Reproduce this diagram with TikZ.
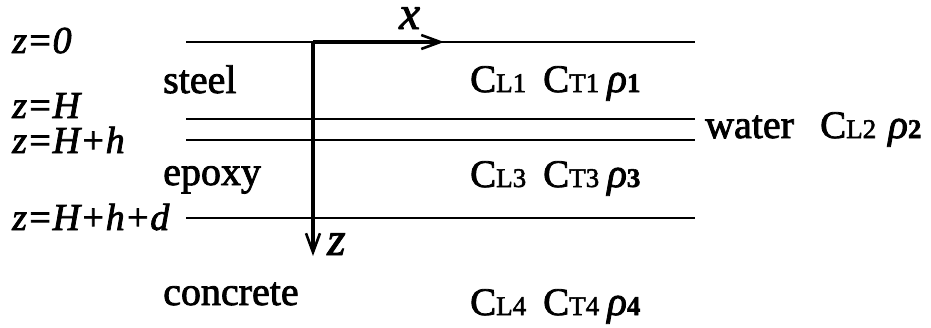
\documentclass[tikz,border=0pt]{standalone}
\usepackage{fontspec}
\setmainfont{Liberation Serif}[FakeBold=2]
\usetikzlibrary{arrows.meta}
\begin{document}
\begin{tikzpicture}[x=1pt,y=-1pt,
  lbl/.style={anchor=base west,inner sep=0pt,font=\fontsize{38}{40}\selectfont\itshape},
  axl/.style={anchor=base west,inner sep=0pt,font=\fontsize{47}{50}\selectfont\itshape},
  txt/.style={anchor=base west,inner sep=0pt,font=\fontsize{40}{44}\selectfont},
  prop/.style={anchor=base west,inner sep=0pt,font=\fontsize{39}{40}\selectfont},
  layer/.style={line width=2.2pt},
  axis/.style={line width=3.2pt,-{Straight Barb[length=19pt,width=14pt,line width=2.6pt]}}]
\useasboundingbox (0,0) rectangle (931,327);
\newcommand{\sbx}[1]{{\fontsize{27}{28}\selectfont #1}}
\newcommand{\rh}[1]{{\fontsize{41}{40}\selectfont\itshape ρ}{\fontsize{27}{26}\selectfont\bfseries #1}}
% interface lines
\coordinate (l0a) at (186,42);  \coordinate (l0b) at (695,42);
\coordinate (l1a) at (186,119); \coordinate (l1b) at (695,119);
\coordinate (l2a) at (186,140); \coordinate (l2b) at (695,140);
\coordinate (l3a) at (186,218); \coordinate (l3b) at (695,218);
\draw[layer] (l0a) -- (l0b);
\draw[layer] (l1a) -- (l1b);
\draw[layer] (l2a) -- (l2b);
\draw[layer] (l3a) -- (l3b);
% axes
\coordinate (o) at (313,42);
\coordinate (xe) at (444,42);
\coordinate (ze) at (313,256);
\draw[axis] (o) -- (xe);
\draw[axis] (o) -- (ze);
\node[axl] (xl) at (399,29) {x};
\node[axl] (zl) at (327,255) {z};
% left labels
\node[lbl] (z0) at (12,53) {z=0};
\node[lbl] (zH) at (12,118) {z=H};
\node[lbl] (zHh) at (12,153) {z=H+h};
\node[lbl] (zHhd) at (12,230) {z=H+h+d};
% materials
\node[txt] (steel) at (163,93) {steel};
\node[txt] (epoxy) at (163,185) {epoxy};
\node[txt] (concrete) at (163,305) {concrete};
\node[txt] (water) at (705,138) {water};
% properties
\node[prop] (p1) at (470,92) {C\sbx{L1}\hspace{17pt}C\sbx{T1}\hspace{8pt}\rh{1}};
\node[prop] (p2) at (820,138) {C\sbx{L2}\hspace{12pt}\rh{2}};
\node[prop] (p3) at (470,187) {C\sbx{L3}\hspace{17pt}C\sbx{T3}\hspace{8pt}\rh{3}};
\node[prop] (p4) at (470,315) {C\sbx{L4}\hspace{17pt}C\sbx{T4}\hspace{8pt}\rh{4}};
\end{tikzpicture}
\end{document}
